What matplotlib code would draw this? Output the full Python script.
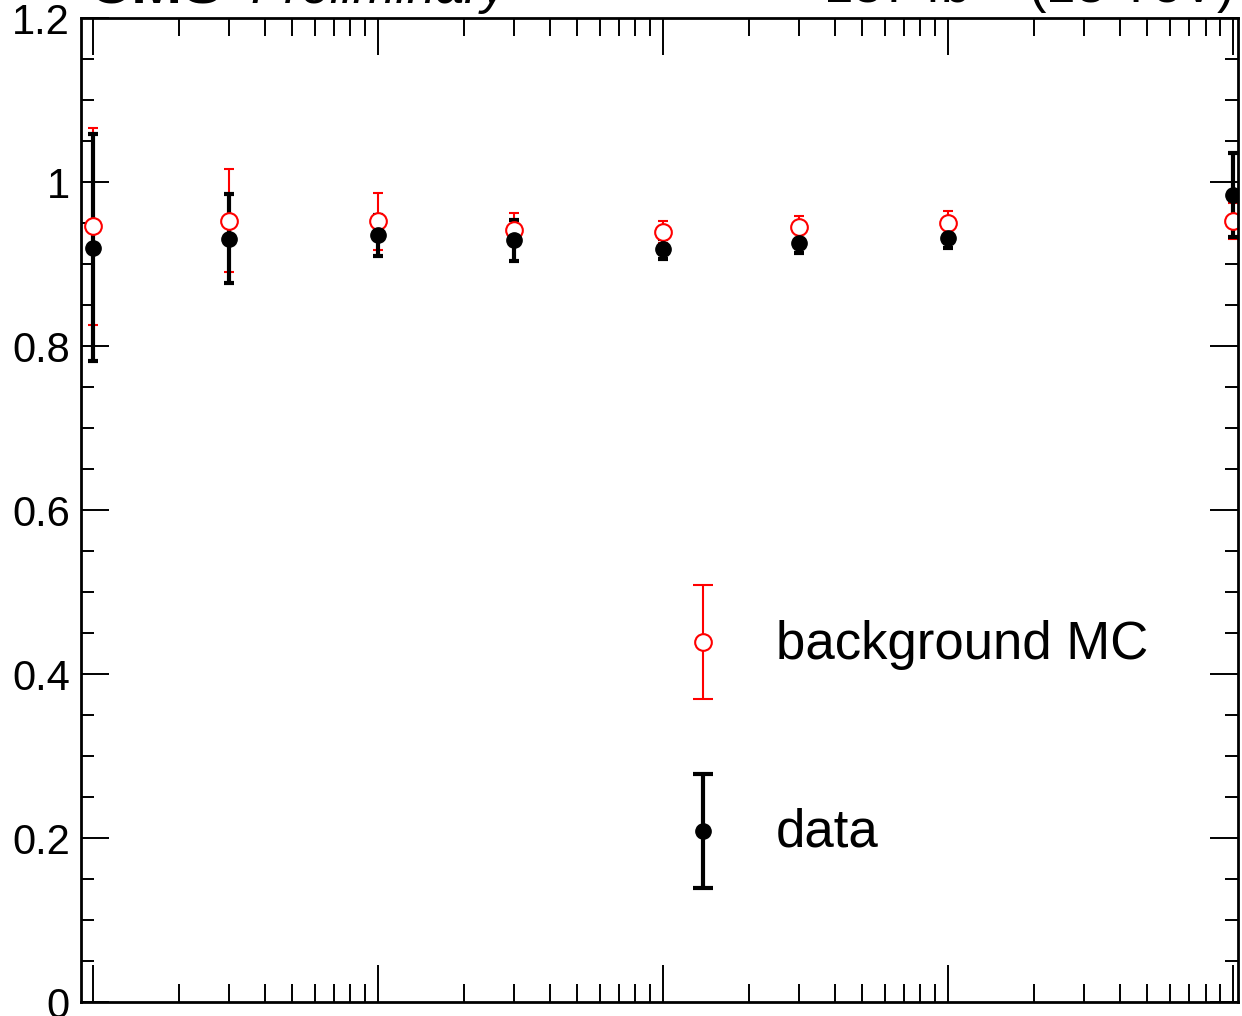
import matplotlib
matplotlib.use("Agg")
import matplotlib.pyplot as plt
from matplotlib.container import ErrorbarContainer
from matplotlib.legend_handler import HandlerErrorbar
from matplotlib.lines import Line2D
from matplotlib.ticker import LogLocator, MultipleLocator, NullFormatter

plt.rcParams['font.family'] = ['Liberation Sans', 'DejaVu Sans']
plt.rcParams['mathtext.fontset'] = 'custom'
plt.rcParams['mathtext.rm'] = 'Liberation Sans'

x = [1, 3, 10, 30, 100, 300, 1000, 10000]
mc = [0.946, 0.953, 0.952, 0.942, 0.939, 0.945, 0.950, 0.953]
mc_err = [0.120, 0.063, 0.035, 0.020, 0.013, 0.014, 0.015, 0.022]
data = [0.920, 0.931, 0.935, 0.929, 0.918, 0.926, 0.932, 0.984]
data_err = [0.138, 0.054, 0.025, 0.025, 0.012, 0.013, 0.012, 0.051]


class CapHandler(HandlerErrorbar):
    def __init__(self, capsize, **kw):
        super().__init__(**kw)
        self.capsize = capsize

    def create_artists(self, *args, **kw):
        arts = super().create_artists(*args, **kw)
        for a in arts:
            if isinstance(a, Line2D) and a.get_marker() == '_':
                a.set_markersize(self.capsize)
        return arts


fig = plt.figure(figsize=(12.42, 10.16), dpi=100)
ax = fig.add_axes([81 / 1242, 14 / 1016, 1157 / 1242, 984 / 1016])

h_mc = ax.errorbar(x, mc, yerr=mc_err, fmt='o', color='red', mfc='white', mec='red',
                   mew=1.5, ms=12, elinewidth=1.5, capsize=3.6, capthick=1.5,
                   label='background MC')
h_data = ax.errorbar(x, data, yerr=data_err, fmt='o', color='black', ms=11,
                     elinewidth=3, capsize=3.6, capthick=3, label='data')

ax.set_xscale('log')
ax.set_xlim(0.908, 1.04e4)
ax.set_ylim(0, 1.2)
ax.xaxis.set_major_locator(LogLocator(base=10, numticks=10))
ax.xaxis.set_minor_locator(LogLocator(base=10, subs=range(2, 10), numticks=20))
ax.xaxis.set_minor_formatter(NullFormatter())
ax.yaxis.set_major_locator(MultipleLocator(0.2))
ax.yaxis.set_minor_locator(MultipleLocator(0.05))
ax.set_yticks([0, 0.2, 0.4, 0.6, 0.8, 1.0, 1.2], ['0', '0.2', '0.4', '0.6', '0.8', '1', '1.2'])

ax.tick_params(axis='both', which='both', direction='in', top=True, right=True, width=1.4)
ax.tick_params(axis='x', which='major', length=26.5, labelbottom=False)
ax.tick_params(axis='x', which='minor', length=13)
ax.tick_params(axis='y', which='major', length=20, labelsize=30, pad=8)
ax.tick_params(axis='y', which='minor', length=9.5)
for s in ax.spines.values():
    s.set_linewidth(2)

leg = ax.legend([h_mc, h_data], ['background MC', 'data'], loc='upper left',
                bbox_to_anchor=(0.5194, 0.3963), frameon=False, fontsize=38,
                borderpad=0, borderaxespad=0, handlelength=0.8, handleheight=2.2,
                handletextpad=0.98, labelspacing=1.89,
                handler_map={ErrorbarContainer: CapHandler(14.4, yerr_size=1.08)})
# lift the labels so they sit centred on the markers, as in the original
for t in leg.get_texts():
    t.set_y(14)

fig.text(88 / 1242, 1 - 3 / 1016, 'CMS', fontsize=44, fontweight='bold', va='baseline')
fig.text(250 / 1242, 1 - 3 / 1016, 'Preliminary', fontsize=37, style='italic', va='baseline')
fig.text(1232 / 1242, 1 - 3 / 1016, '137 fb$^{-1}$ (13 TeV)', fontsize=38,
         ha='right', va='baseline')

fig.savefig('out.png', dpi=100)
